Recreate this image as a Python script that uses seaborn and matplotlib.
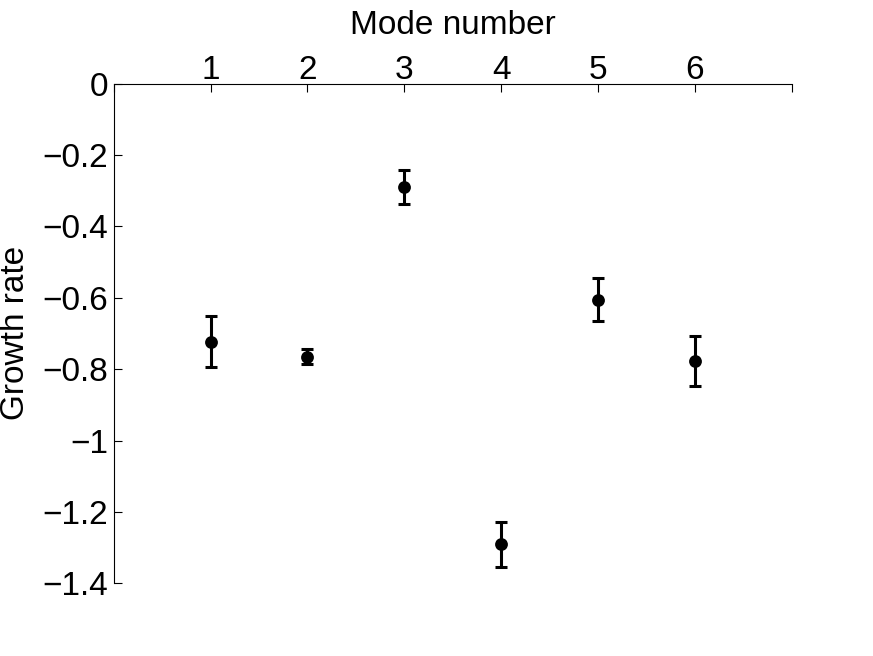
import numpy as np
import pandas as pd
import matplotlib
matplotlib.use('Agg')
import matplotlib.pyplot as plt
import seaborn as sns

# ---------- DATA ----------
modes = [1, 2, 3, 4, 5, 6]
growth = [-0.723, -0.765, -0.290, -1.291, -0.606, -0.776]
err = [0.072, 0.020, 0.048, 0.063, 0.060, 0.070]
yticks = [0, -0.2, -0.4, -0.6, -0.8, -1, -1.2, -1.4]
ytick_labels = ['0', '\u22120.2', '\u22120.4', '\u22120.6', '\u22120.8', '\u22121', '\u22121.2', '\u22121.4']

df = pd.DataFrame({'mode': modes, 'growth': growth, 'err': err})

# ---------- STYLE ----------
sns.set_style('white')
plt.rcParams['font.family'] = ['Liberation Sans', 'DejaVu Sans']
plt.rcParams['font.size'] = 24

fig = plt.figure(figsize=(8.73, 6.56), dpi=100)
ax = fig.add_axes([0.1302, 0.1108, 0.9069 - 0.1302, 0.8727 - 0.1108])

ax.errorbar(df['mode'], df['growth'], yerr=df['err'], fmt='none',
            ecolor='black', elinewidth=2.2, capsize=4, capthick=2.2, zorder=2)
sns.scatterplot(data=df, x='mode', y='growth', ax=ax, color='black',
                s=85, edgecolor='black', linewidth=0, zorder=3, legend=False)

ax.set_xlim(0, 7)
ax.set_ylim(-1.4, 0)
ax.xaxis.set_ticks_position('top')
ax.xaxis.set_label_position('top')
ax.set_xticks(range(0, 8))
ax.set_xticklabels([''] + [str(m) for m in modes] + [''])
ax.set_yticks(yticks)
ax.set_yticklabels(ytick_labels)
ax.tick_params(direction='in', length=6, width=0.8, labelsize=24, colors='black')
ax.tick_params(axis='x', top=True, bottom=False, pad=-2)
ax.tick_params(axis='y', left=True, right=False, pad=4)

for side in ['bottom', 'right']:
    ax.spines[side].set_visible(False)
for side in ['top', 'left']:
    ax.spines[side].set_linewidth(0.8)
    ax.spines[side].set_color('black')

ax.set_xlabel('Mode number', fontsize=24, labelpad=15, color='black')
ax.set_ylabel('Growth rate', fontsize=24, labelpad=8, color='black')

fig.savefig('out.png', dpi=100)
